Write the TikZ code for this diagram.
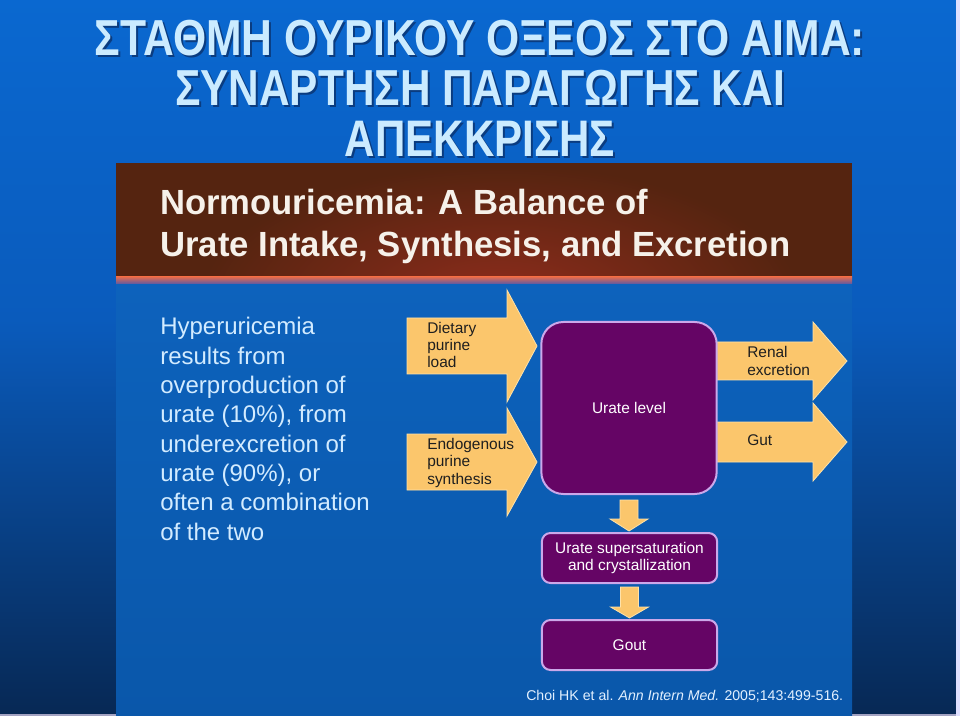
\documentclass[tikz,border=0pt]{standalone}
\usepackage{fontspec}
\setmainfont{Liberation Sans}
\usepackage{graphicx}
\usetikzlibrary{calc}
\definecolor{bgtop}{HTML}{0A68D0}
\definecolor{bgmid}{HTML}{0A5BBC}
\definecolor{bgbot}{HTML}{072854}
\definecolor{titlecol}{HTML}{CBEBFF}
\definecolor{titleshd}{HTML}{0A3C80}
\definecolor{hdrbrown}{HTML}{552410}
\definecolor{hdrred}{HTML}{8E2C1C}
\definecolor{hdrtext}{HTML}{F6F1EA}
\definecolor{bodytop}{HTML}{0D62BC}
\definecolor{bodybot}{HTML}{0A57AA}
\definecolor{yel}{HTML}{FBC66C}
\definecolor{yeledge}{HTML}{FFE2A8}
\definecolor{purp}{HTML}{650565}
\definecolor{purpedge}{HTML}{CBA8EA}
\definecolor{sidecol}{HTML}{D2EBFF}
\definecolor{citecol}{HTML}{E2F0FF}
\newcommand\harrow[6]{\fill[yarrow] (#1,#4-#5) -- (#2,#4-#5) -- (#2,#4-#6) -- (#3,#4) -- (#2,#4+#6) -- (#2,#4+#5) -- (#1,#4+#5) -- cycle;}
\begin{document}
\begin{tikzpicture}[x=0.75pt,y=-0.75pt,
  titletxt/.style={anchor=base, inner sep=0, text=titlecol, font=\bfseries},
  titleshadow/.style={anchor=base, inner sep=0, text=titleshd, font=\bfseries},
  hdrtxt/.style={anchor=base west, inner sep=0, text=hdrtext, font=\bfseries},
  sidetxt/.style={anchor=west, inner sep=0, align=left, text=sidecol, font=\fontsize{18pt}{22pt}\selectfont},
  arrtxt/.style={anchor=west, inner sep=0, align=left, text=black!88, font=\fontsize{11.6pt}{13.1pt}\selectfont},
  yarrow/.style={fill=yel, draw=yeledge, line width=0.6pt},
  purpbox/.style={draw=purpedge, line width=1.5pt, fill=purp, text=white, inner sep=0, align=center,
     minimum width=131.5pt, font=\fontsize{11.6pt}{12.75pt}\selectfont}]
\useasboundingbox (0,0) rectangle (960,716);
% background
\fill[top color=bgtop,bottom color=bgmid] (0,0) rectangle (960,320);
\fill[top color=bgmid,bottom color=bgbot] (0,320) rectangle (960,716);
\fill[white!88!blue] (955.5,0) rectangle (960,716);
\fill[blue!20!gray!60] (0,714) rectangle (955.5,716);
% title
\node[titleshadow] (t1s) at (482,57.5) {\resizebox{577.5pt}{26.5pt}{ΣΤΑΘΜΗ ΟΥΡΙΚΟΥ ΟΞΕΟΣ ΣΤΟ ΑΙΜΑ:}};
\node[titleshadow] (t2s) at (482,108) {\resizebox{457.5pt}{26.5pt}{ΣΥΝΑΡΤΗΣΗ ΠΑΡΑΓΩΓΗΣ ΚΑΙ}};
\node[titleshadow] (t3s) at (482,158.5) {\resizebox{202.5pt}{26.5pt}{ΑΠΕΚΚΡΙΣΗΣ}};
\node[titletxt] (t1) at (480,55.5) {\resizebox{577.5pt}{26.5pt}{ΣΤΑΘΜΗ ΟΥΡΙΚΟΥ ΟΞΕΟΣ ΣΤΟ ΑΙΜΑ:}};
\node[titletxt] (t2) at (480,106) {\resizebox{457.5pt}{26.5pt}{ΣΥΝΑΡΤΗΣΗ ΠΑΡΑΓΩΓΗΣ ΚΑΙ}};
\node[titletxt] (t3) at (480,156.5) {\resizebox{202.5pt}{26.5pt}{ΑΠΕΚΚΡΙΣΗΣ}};
% inner slide
\fill[top color=bodytop,bottom color=bodybot] (116,283) rectangle (852,716);
\fill[hdrbrown] (116,163) rectangle (852,277);
\begin{scope}
\clip (117,166) rectangle (851,277);
\shade[inner color=hdrred, outer color=hdrbrown] (500,300) ellipse (300 and 135);
\end{scope}
\fill[top color=red!45!brown!80, bottom color=blue!30!gray] (116,277) rectangle (852,284);
\node[hdrtxt] (h1) at (160,215) {\resizebox{366pt}{19pt}{Normouricemia: A Balance of}};
\node[hdrtxt] (h2) at (160,257) {\resizebox{472.5pt}{19pt}{Urate Intake, Synthesis, and Excretion}};
% left text
\node[sidetxt] (side) at (160,429) {Hyperuricemia\\results from\\overproduction of\\urate (10\%), from\\underexcretion of\\urate (90\%), or\\often a combination\\of the two};
% block arrows
\harrow{407}{507}{537}{346}{28}{56}
\harrow{407}{507}{537}{462}{28}{54}
\harrow{714}{813}{847}{361}{19}{39}
\harrow{714}{813}{847}{442}{20}{39}
% boxes
\node[purpbox, minimum height=129pt, rounded corners=16.5pt] (urate) at (629,408) {Urate level};
\node[purpbox, minimum height=37.5pt, rounded corners=6.5pt] (sat) at (629.5,558) {Urate supersaturation\\and crystallization};
\node[purpbox, minimum height=37.5pt, rounded corners=6.5pt] (gout) at (629.5,645) {Gout};
% down arrows
\fill[yarrow] let \p1=(urate.south), \p2=(sat.north) in
  (\x1-6.75pt,\y1-3.75pt) -- (\x1+6.75pt,\y1-3.75pt) -- (\x1+6.75pt,\y2+9.75pt) -- (\x1+14.25pt,\y2+9.75pt)
  -- (\x1,\y2+0.75pt) -- (\x1-14.25pt,\y2+9.75pt) -- (\x1-6.75pt,\y2+9.75pt) -- cycle;
\fill[yarrow] let \p1=(sat.south), \p2=(gout.north) in
  (\x1-6.75pt,\y1-2.25pt) -- (\x1+6.75pt,\y1-2.25pt) -- (\x1+6.75pt,\y2+9pt) -- (\x1+14.25pt,\y2+9pt)
  -- (\x1,\y2+0.75pt) -- (\x1-14.25pt,\y2+9pt) -- (\x1-6.75pt,\y2+9pt) -- cycle;
% arrow labels
\node[arrtxt] (dietary) at (427,345) {Dietary\\purine\\load};
\node[arrtxt] (endo) at (427,463) {Endogenous\\purine\\synthesis};
\node[arrtxt] (renal) at (747,361) {Renal\\excretion};
\node[arrtxt] (gut) at (747,440) {Gut};
% citation
\node[anchor=base west, inner sep=0, text=citecol, font=\fontsize{10.6pt}{13pt}\selectfont] (cite) at (526,700) {Choi HK et al. \textit{Ann Intern Med.} 2005;143:499-516.};
\end{tikzpicture}
\end{document}
